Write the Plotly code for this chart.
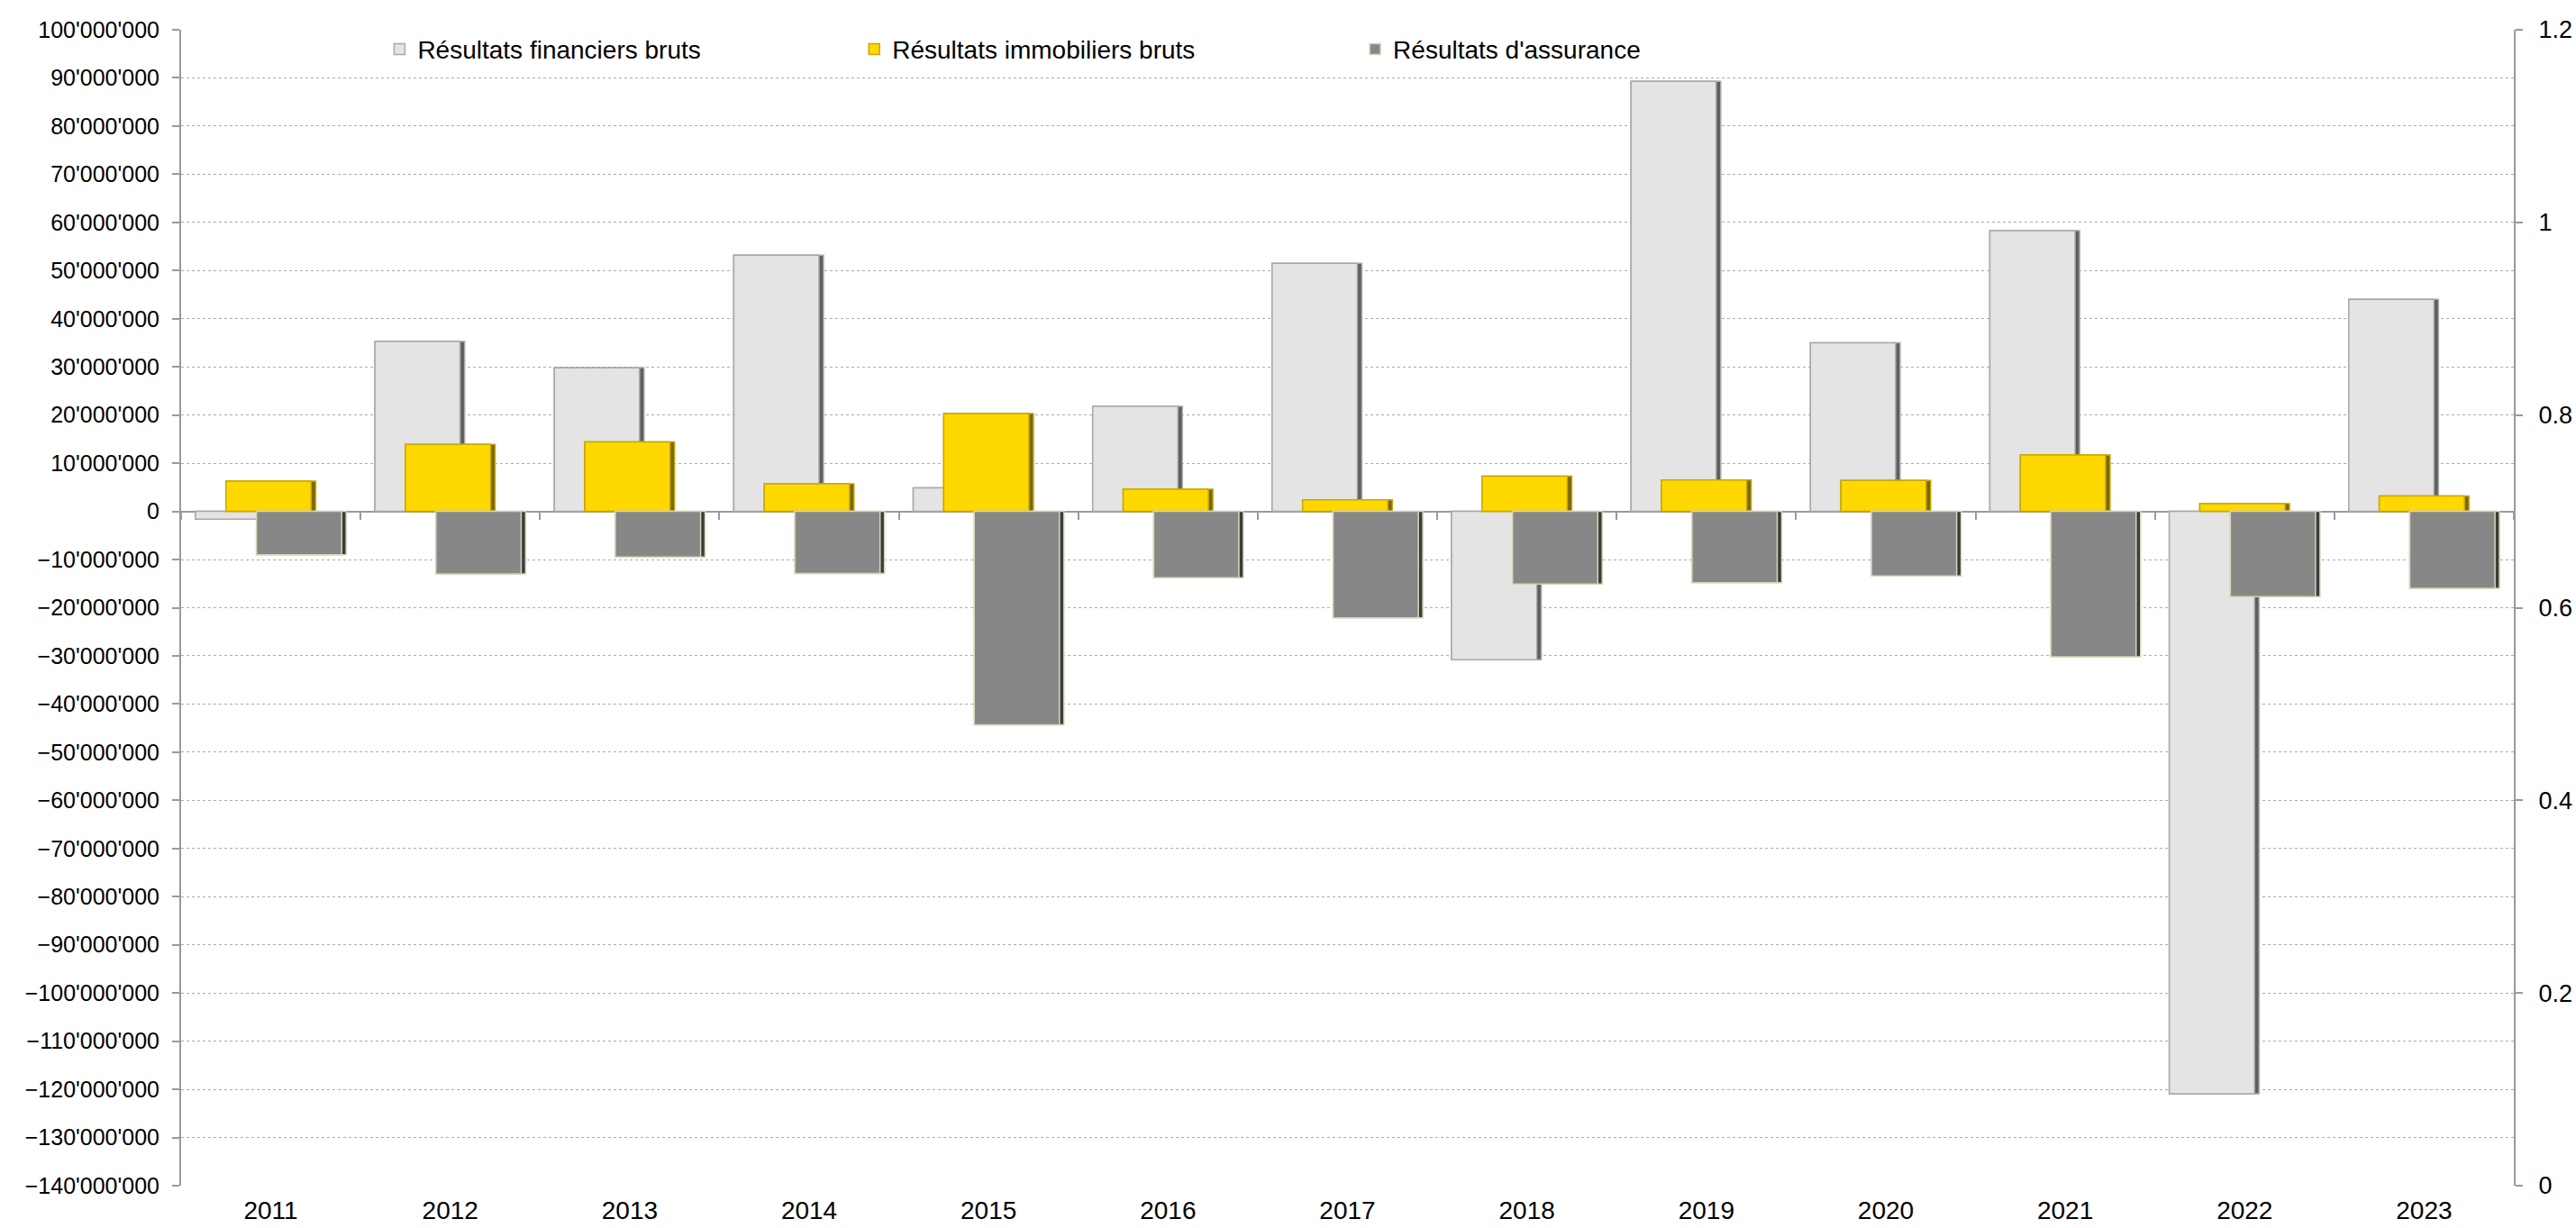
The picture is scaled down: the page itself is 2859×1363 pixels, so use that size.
import plotly.graph_objects as go

years = ["2011", "2012", "2013", "2014", "2015", "2016", "2017",
         "2018", "2019", "2020", "2021", "2022", "2023"]
financiers = [-1.6e6, 35.3e6, 29.8e6, 53.2e6, 4.9e6, 21.8e6, 51.5e6,
              -30.8e6, 89.3e6, 35.0e6, 58.3e6, -120.9e6, 44.0e6]
immobiliers = [6.3e6, 13.9e6, 14.4e6, 5.7e6, 20.3e6, 4.6e6, 2.4e6,
               7.3e6, 6.5e6, 6.4e6, 11.7e6, 1.6e6, 3.2e6]
assurance = [-9.0e6, -13.0e6, -9.5e6, -12.9e6, -44.3e6, -13.8e6, -22.1e6,
             -15.1e6, -14.8e6, -13.4e6, -30.2e6, -17.7e6, -16.0e6]
names = ["Résultats financiers bruts", "Résultats immobiliers bruts", "Résultats d'assurance"]

FONT = "Liberation Sans, Arial, sans-serif"
AXIS_GREY = "#9A9A9A"
GRID_GREY = "#ABABAB"

fig = go.Figure()

BW = 0.50
EDGE = 0.025  # width of the darker right-hand bevel strip
series = [
    (financiers, names[0], "#E4E4E4", "#5E5E5E", "#A8A8A8", -0.42, "legend"),
    (immobiliers, names[1], "#FFD800", "#7A6600", "#C8A800", -0.25, "legend2"),
    (assurance, names[2], "#878787", "#3C3C3C", "#D8D4B8", -0.08, "legend3"),
]
for vals, nm, fill, shade, edge, off, lg in series:
    # darker shade (right bevel)
    fig.add_trace(go.Bar(
        x=years, y=vals, width=BW, offset=off, showlegend=False, hoverinfo="skip",
        marker=dict(color=shade, line=dict(color=edge, width=1.5)),
    ))
    # main face
    fig.add_trace(go.Bar(
        x=years, y=vals, name=nm, width=BW - EDGE, offset=off,
        marker=dict(color=fill, line=dict(color=edge, width=1.5)),
        legend=lg,
    ))

# invisible helper traces so the secondary axes are rendered
fig.add_trace(go.Scatter(x=years, y=[0] * len(years), xaxis="x2", yaxis="y",
                         mode="markers", marker=dict(opacity=0), showlegend=False,
                         hoverinfo="skip"))
fig.add_trace(go.Scatter(x=years, y=[0] * len(years), xaxis="x", yaxis="y2",
                         mode="markers", marker=dict(opacity=0), showlegend=False,
                         hoverinfo="skip"))

ymin, ymax = -140e6, 100e6
zero_pos = (0 - ymin) / (ymax - ymin)

leg_common = dict(orientation="h", yanchor="middle", y=0.983, xanchor="left",
                  bgcolor="rgba(0,0,0,0)", font=dict(family=FONT, size=28, color="#000"),
                  itemclick=False)

fig.update_layout(
    width=2859, height=1363,
    margin=dict(l=201, r=69, t=33, b=47),
    paper_bgcolor="white", plot_bgcolor="white",
    barmode="overlay",
    separators=".'",
    font=dict(family=FONT, size=28, color="#000"),
    showlegend=True,
    legend=dict(x=0.0859, **leg_common),
    legend2=dict(x=0.2894, **leg_common),
    legend3=dict(x=0.5041, **leg_common),
    xaxis=dict(type="category", range=[-0.5, 12.5], showline=False, ticks="",
               showgrid=False, zeroline=False, tickfont=dict(size=28, color="#000"),
               ticklabelstandoff=8, automargin=False),
    xaxis2=dict(type="category", range=[-0.5, 12.5], overlaying="x", anchor="free",
                position=zero_pos, showline=True, linecolor=AXIS_GREY, linewidth=2,
                ticks="outside", tickson="boundaries", ticklen=8, tickwidth=2,
                tickcolor=AXIS_GREY, showticklabels=False, showgrid=False,
                layer="below traces", automargin=False),
    yaxis=dict(range=[ymin, ymax], dtick=10e6, tick0=0, tickformat=",d",
               showline=True, linecolor=AXIS_GREY, linewidth=2,
               ticks="outside", ticklen=8, tickwidth=2, tickcolor=AXIS_GREY,
               showgrid=True, gridcolor=GRID_GREY, gridwidth=1, griddash="dot",
               zeroline=False, tickfont=dict(size=25, color="#000"),
               ticklabelstandoff=9, automargin=False),
    yaxis2=dict(range=[0, 1.2], dtick=0.2, tick0=0, overlaying="y", side="right",
                showline=True, linecolor=AXIS_GREY, linewidth=2,
                ticks="outside", ticklen=8, tickwidth=2, tickcolor=AXIS_GREY,
                showgrid=False, zeroline=False, tickfont=dict(size=27, color="#000"),
                ticklabelstandoff=12, automargin=False),
)

fig.write_html(
    "out.html",
    config={"displayModeBar": False},
    post_script="document.body.style.margin='0';document.documentElement.style.overflow='hidden';",
)
